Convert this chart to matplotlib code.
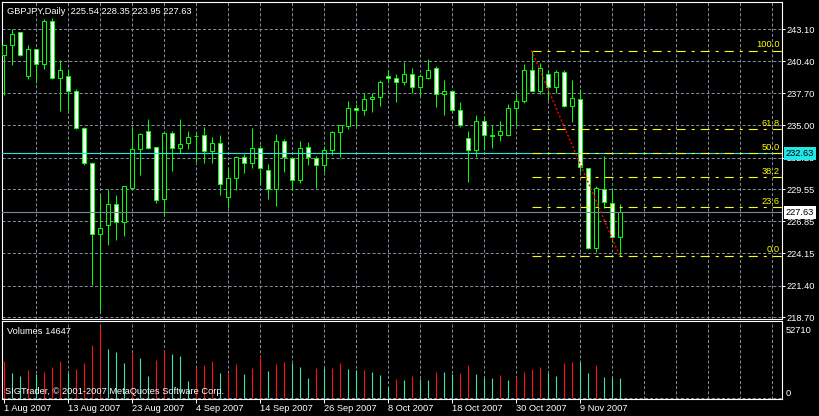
import numpy as np
import matplotlib
matplotlib.use('Agg')
import matplotlib.pyplot as plt

plt.rcParams['font.family'] = ['Liberation Sans', 'DejaVu Sans']
plt.rcParams['lines.scale_dashes'] = False

symbol = 'GBPJPY,Daily'

# daily GBPJPY bars, 1 Aug 2007 .. 16 Nov 2007
opens = [240.90, 241.75, 242.85, 239.20, 241.41, 240.14, 243.78, 239.01, 239.20, 237.93,
         234.72, 231.75, 225.73, 226.50, 228.28, 226.75, 229.69, 232.94, 234.46, 233.11,
         228.70, 234.29, 233.02, 233.45, 234.09, 234.12, 232.77, 233.45, 228.87, 230.48,
         232.26, 231.75, 233.02, 231.16, 229.55, 233.61, 232.17, 230.31, 233.11, 232.17,
         231.58, 232.85, 234.38, 234.89, 236.41, 236.24, 237.17, 237.34, 239.12, 238.95,
         238.61, 239.37, 238.19, 238.95, 239.80, 237.60, 237.85, 236.32, 233.87, 232.85,
         235.31, 234.12, 234.12, 234.12, 236.41, 237.00, 239.71, 237.85, 239.29, 238.27,
         239.46, 236.66, 237.17, 231.33, 224.55, 229.55, 228.36, 225.54]
highs = [241.80, 243.10, 242.87, 241.75, 241.45, 243.95, 244.06, 240.50, 239.77, 238.05,
         234.86, 231.86, 229.06, 229.55, 229.04, 229.82, 234.83, 234.29, 235.51, 233.16,
         234.43, 234.49, 235.51, 234.46, 234.38, 234.83, 233.95, 234.12, 231.41, 232.34,
         232.51, 234.74, 233.28, 231.67, 234.21, 233.78, 232.23, 233.61, 233.53, 232.37,
         233.19, 234.46, 234.99, 237.00, 236.75, 237.76, 237.76, 238.78, 239.71, 239.29,
         240.31, 239.80, 239.37, 240.64, 239.97, 238.78, 237.93, 236.92, 234.46, 235.82,
         235.65, 235.05, 235.31, 236.75, 237.68, 240.14, 241.32, 240.22, 239.63, 239.63,
         239.63, 238.81, 238.02, 231.40, 229.80, 232.34, 229.63, 228.35]
lows = [237.57, 240.11, 240.88, 238.87, 238.53, 239.77, 238.89, 236.21, 236.32, 234.66,
        231.64, 221.42, 219.25, 224.86, 225.29, 225.63, 229.61, 230.79, 232.98, 228.36,
        227.32, 231.13, 232.60, 232.99, 231.89, 231.81, 231.81, 229.10, 227.94, 229.49,
        230.90, 231.38, 229.97, 228.73, 228.17, 231.05, 229.46, 230.06, 231.64, 229.69,
        230.99, 232.43, 232.32, 234.63, 234.89, 235.82, 236.07, 236.66, 238.53, 236.92,
        238.36, 237.68, 237.34, 238.87, 236.55, 235.82, 236.07, 234.80, 230.20, 232.26,
        232.85, 233.02, 233.61, 234.04, 235.05, 236.89, 237.85, 237.60, 237.09, 237.76,
        236.55, 235.22, 231.05, 224.50, 224.21, 227.94, 225.06, 223.95]
closes = [241.75, 242.76, 240.90, 241.41, 240.14, 243.86, 239.01, 239.71, 237.93, 234.72,
          231.81, 225.74, 226.24, 228.28, 226.75, 229.80, 232.94, 234.21, 233.02, 228.62,
          234.29, 233.02, 233.36, 233.95, 234.04, 232.77, 233.45, 229.97, 230.48, 232.26,
          231.75, 233.02, 231.33, 229.55, 233.61, 232.26, 230.31, 233.02, 232.26, 231.58,
          232.85, 234.38, 234.97, 236.41, 236.24, 237.17, 237.34, 238.61, 238.95, 238.61,
          239.37, 238.19, 239.12, 239.71, 237.60, 237.93, 236.32, 234.97, 232.85, 235.31,
          234.12, 234.10, 234.46, 236.41, 237.00, 239.71, 237.93, 239.88, 238.27, 239.46,
          236.66, 237.26, 231.41, 224.55, 229.63, 228.45, 225.54, 227.63]
volumes = [27100, 18400, 16200, 20600, 17700, 19100, 22700, 27100, 18400, 21300,
           25700, 38700, 52710, 35800, 33600, 25700, 32900, 29300, 16200, 27800,
           35100, 32200, 30700, 12600, 22700, 24200, 27100, 18400, 18600, 24900,
           17700, 22000, 30700, 19800, 24900, 26600, 26000, 22700, 14800, 22000,
           21800, 22100, 25700, 21300, 20300, 20800, 19100, 16900, 8200, 14000,
           13300, 16200, 14000, 13300, 19100, 18900, 17700, 18400, 24200, 17700,
           14800, 14600, 16900, 13300, 15500, 19100, 21300, 22700, 18400, 16200,
           25700, 26400, 26200, 18400, 24200, 15500, 14800, 14647]

date_labels = ['1 Aug 2007', '13 Aug 2007', '23 Aug 2007', '4 Sep 2007', '14 Sep 2007',
               '26 Sep 2007', '8 Oct 2007', '18 Oct 2007', '30 Oct 2007', '9 Nov 2007']
price_ticks = [218.70, 221.40, 224.15, 226.85, 229.55, 232.25, 235.00, 237.70, 240.40, 243.10]
fib_high, fib_low = 241.32, 223.95
fib_start, fib_end = 66, 77
fib_levels = [0.0, 23.6, 38.2, 50.0, 61.8, 100.0]
hline_price = 232.63
vol_scale = 52710

o = np.array(opens); h = np.array(highs); l = np.array(lows); c = np.array(closes)
v = np.array(volumes)
x = np.arange(len(o))

W, H = 819, 416
fig = plt.figure(figsize=(W / 100, H / 100), dpi=100, facecolor='black')

def px_axes(left, top, right, bottom):
    return fig.add_axes([left / W, 1 - bottom / H, (right - left) / W, (bottom - top) / H])

ax = px_axes(2, 2, 782, 319)
axv = px_axes(2, 321, 782, 399)

green = '#00ff00'
grid_c = '#7f8b9b'
grid_ls = (0, (2.2, 1.5))
fs = 6.7
xlim = (-0.1875, 97.3125)

for a in (ax, axv):
    a.set_facecolor('black')
    a.set_xlim(*xlim)
    for s in a.spines.values():
        s.set_color('white')
        s.set_linewidth(0.8)
    for gx in range(4, 97, 4):
        a.axvline(gx, color=grid_c, lw=0.72, ls=grid_ls, zorder=1)

# price panel
ax.set_ylim(218.57, 245.43)
for py in price_ticks:
    ax.axhline(py, color=grid_c, lw=0.72, ls=grid_ls, zorder=1)

ax.vlines(x, l, h, color=green, lw=0.72, zorder=2)
bull = c >= o
ax.bar(x, np.maximum(np.abs(c - o), 0.02), bottom=np.minimum(o, c), width=0.5,
       color=np.where(bull, 'black', 'white'), edgecolor=green, linewidth=0.72, zorder=3)

ax.axhline(hline_price, color='#20e8e8', lw=0.8, zorder=4)
ax.axhline(c[-1], color='#778899', lw=0.8, zorder=4)

# fibonacci retracement
ax.plot([fib_start, fib_end], [fib_high, fib_low], color='#ff0000', lw=1.0,
        ls=(0, (1.5, 1.5)), zorder=5)
for lev in fib_levels:
    p = fib_low + (fib_high - fib_low) * lev / 100
    ax.plot([fib_start, xlim[1]], [p, p], color='yellow', lw=0.8,
            ls=(0, (6.5, 4.3, 2.2, 4.3)), zorder=4)
    ax.text(97.0, p + 0.1, f'{lev:.1f}', color='yellow', fontsize=fs, ha='right', va='bottom',
            zorder=6)

ax.set_xticks([])
ax.yaxis.tick_right()
ax.set_yticks(price_ticks)
ax.set_yticklabels([f'{t:.2f}' for t in price_ticks])
ax.tick_params(axis='y', colors='white', labelsize=fs, length=2.2, width=0.72, pad=1)

yt = ax.get_yaxis_transform()
ax.text(1.0048, hline_price, f'{hline_price:.2f}', transform=yt, color='black', fontsize=fs,
        ha='left', va='center', zorder=10, clip_on=False,
        bbox=dict(facecolor='#20e8e8', edgecolor='none', pad=1.4))
ax.text(1.0048, c[-1], f'{c[-1]:.2f}', transform=yt, color='black', fontsize=fs,
        ha='left', va='center', zorder=10, clip_on=False,
        bbox=dict(facecolor='white', edgecolor='none', pad=1.4))

# volume panel
axv.set_ylim(-510, 56350)
axv.axhline(0, color=grid_c, lw=0.72, ls=grid_ls, zorder=1)
up = np.diff(v, prepend=0) > 0
axv.vlines(x, 0, v, colors=np.where(up, '#ff1010', '#3ce6a4'), lw=0.8, zorder=2)
axv.set_yticks([])
axv.set_xticks(range(0, len(x), 8))
axv.set_xticklabels(date_labels, ha='left')
axv.tick_params(axis='x', colors='white', labelsize=fs, length=2.9, width=0.72, pad=0.5)
vt = axv.get_yaxis_transform()
axv.text(1.005, vol_scale, str(vol_scale), transform=vt, color='white', fontsize=fs,
         ha='left', va='top', clip_on=False)
axv.text(1.005, 0, '0', transform=vt, color='white', fontsize=fs,
         ha='left', va='bottom', clip_on=False)

fig.text(7 / W, 1 - 11 / H,
         f'{symbol}  {o[-1]:.2f} {h[-1]:.2f} {l[-1]:.2f} {c[-1]:.2f}',
         color='white', fontsize=fs, va='center')
fig.text(7 / W, 1 - 332 / H, f'Volumes {v[-1]}', color='white', fontsize=fs, va='center')
fig.text(5 / W, 1 - 391 / H, 'SIGTrader, © 2001-2007 MetaQuotes Software Corp.',
         color='white', fontsize=fs, va='center', zorder=10)

fig.savefig('out.png', dpi=100, facecolor='black')
